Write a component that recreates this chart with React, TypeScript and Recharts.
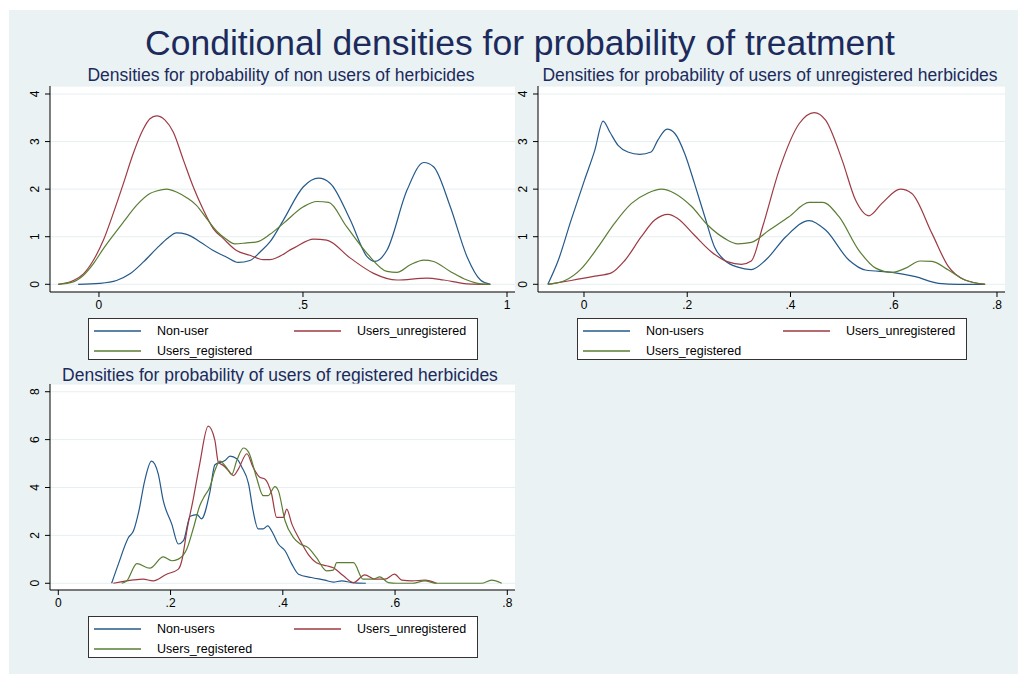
import React from 'react'
import { LineChart, Line, XAxis, YAxis, CartesianGrid } from 'recharts'

const FONT = "Arial, 'Liberation Sans', Helvetica, sans-serif"
const BLUE = '#24598a'
const RED = '#9e3a43'
const GREEN = '#5a7d33'
const NAVY = '#1c2a5c'
const BG = '#eaf2f3'

// panel 1: non users of herbicides
const p1NonUser = [
    [-0.051, 0], [0.002, 0.02], [0.043, 0.08], [0.076, 0.22], [0.109, 0.47], [0.141, 0.75], [0.17, 0.98],
    [0.19, 1.08], [0.215, 1.05], [0.248, 0.89], [0.28, 0.71], [0.313, 0.57], [0.341, 0.46], [0.37, 0.5],
    [0.395, 0.68], [0.419, 0.89], [0.452, 1.35], [0.501, 2.05], [0.538, 2.23], [0.567, 2.12], [0.616, 1.35],
    [0.657, 0.58], [0.676, 0.48], [0.706, 0.72], [0.755, 1.98], [0.796, 2.56], [0.82, 2.47], [0.861, 1.63],
    [0.902, 0.58], [0.935, 0.09], [0.959, 0],
]
const p1Unreg = [
    [-0.1, 0], [-0.063, 0.08], [-0.038, 0.22], [-0.014, 0.5], [0.011, 0.93], [0.035, 1.49], [0.06, 2.12],
    [0.084, 2.75], [0.109, 3.27], [0.125, 3.48], [0.141, 3.54], [0.162, 3.45], [0.182, 3.2], [0.207, 2.61],
    [0.231, 2.05], [0.256, 1.56], [0.28, 1.17], [0.305, 0.96], [0.337, 0.71], [0.37, 0.61], [0.403, 0.52],
    [0.419, 0.52], [0.477, 0.76], [0.526, 0.95], [0.558, 0.93], [0.616, 0.55], [0.673, 0.23], [0.73, 0.09],
    [0.804, 0.13], [0.845, 0.09], [0.902, 0.01], [0.959, 0],
]
const p1Reg = [
    [-0.1, 0], [-0.063, 0.05], [-0.038, 0.19], [-0.014, 0.43], [0.011, 0.75], [0.035, 1.03], [0.06, 1.31],
    [0.092, 1.66], [0.125, 1.91], [0.141, 1.96], [0.166, 2.0], [0.19, 1.94], [0.215, 1.82], [0.239, 1.66],
    [0.264, 1.38], [0.288, 1.12], [0.313, 0.94], [0.333, 0.85], [0.362, 0.87], [0.387, 0.89], [0.419, 1.05],
    [0.452, 1.28], [0.501, 1.63], [0.534, 1.74], [0.563, 1.72], [0.607, 1.21], [0.657, 0.65], [0.706, 0.27],
    [0.73, 0.25], [0.763, 0.41], [0.796, 0.51], [0.82, 0.48], [0.861, 0.27], [0.902, 0.09], [0.935, 0.01],
    [0.959, 0],
]

// panel 2: users of unregistered herbicides
const p2NonUsers = [
    [-0.07, 0], [-0.05, 0.5], [-0.025, 1.35], [0.001, 2.19], [0.021, 2.82], [0.037, 3.43], [0.05, 3.2],
    [0.066, 2.92], [0.085, 2.78], [0.108, 2.73], [0.13, 2.78], [0.143, 3.03], [0.161, 3.26], [0.176, 3.17],
    [0.195, 2.75], [0.214, 2.12], [0.234, 1.42], [0.253, 0.78], [0.273, 0.5], [0.298, 0.36], [0.324, 0.31],
    [0.352, 0.51], [0.391, 1.0], [0.436, 1.34], [0.468, 1.14], [0.513, 0.51], [0.545, 0.3], [0.597, 0.25],
    [0.642, 0.16], [0.687, 0.02], [0.725, 0], [0.777, 0],
]
const p2Unreg = [
    [-0.07, 0], [-0.025, 0.08], [0.021, 0.17], [0.053, 0.24], [0.079, 0.5], [0.111, 1.0], [0.137, 1.35],
    [0.163, 1.47], [0.182, 1.38], [0.214, 1.03], [0.247, 0.68], [0.279, 0.47], [0.305, 0.42], [0.324, 0.49],
    [0.346, 1.21], [0.378, 2.4], [0.417, 3.38], [0.446, 3.61], [0.468, 3.45], [0.5, 2.61], [0.526, 1.77],
    [0.552, 1.44], [0.577, 1.7], [0.613, 2.0], [0.635, 1.91], [0.674, 1.07], [0.706, 0.37], [0.738, 0.09],
    [0.777, 0],
]
const p2Reg = [
    [-0.07, 0], [-0.037, 0.08], [-0.005, 0.33], [0.027, 0.78], [0.059, 1.28], [0.092, 1.7], [0.124, 1.92],
    [0.15, 2.0], [0.176, 1.91], [0.208, 1.64], [0.24, 1.24], [0.273, 0.96], [0.298, 0.85], [0.324, 0.88],
    [0.359, 1.14], [0.397, 1.42], [0.436, 1.72], [0.462, 1.72], [0.494, 1.42], [0.532, 0.72], [0.565, 0.34],
    [0.597, 0.25], [0.623, 0.34], [0.651, 0.49], [0.674, 0.48], [0.706, 0.3], [0.738, 0.09], [0.777, 0],
]

// panel 3: users of registered herbicides
const p3NonUsers = [
    [0.095, 0], [0.107, 0.8], [0.125, 1.91], [0.134, 2.19], [0.143, 2.96], [0.154, 4.29], [0.166, 5.1],
    [0.178, 4.57], [0.187, 3.45], [0.202, 2.48], [0.214, 1.64], [0.223, 1.78], [0.235, 2.8], [0.247, 2.87],
    [0.255, 2.69], [0.27, 3.8], [0.279, 4.95], [0.297, 5.13], [0.306, 5.31], [0.318, 5.2], [0.327, 4.85],
    [0.339, 4.15], [0.347, 3.03], [0.356, 2.27], [0.365, 2.27], [0.373, 2.4], [0.383, 2.06], [0.392, 1.64],
    [0.404, 1.36], [0.416, 0.8], [0.428, 0.38], [0.451, 0.24], [0.475, 0.13], [0.49, 0.05], [0.505, 0.1],
    [0.523, 0.03], [0.548, 0],
]
const p3Unreg = [
    [0.098, 0], [0.134, 0.14], [0.151, 0.17], [0.169, 0.1], [0.193, 0.38], [0.214, 0.59], [0.22, 0.94],
    [0.229, 2.19], [0.241, 3.59], [0.252, 4.99], [0.267, 6.56], [0.279, 5.97], [0.285, 5.06], [0.294, 4.92],
    [0.303, 4.71], [0.312, 4.5], [0.321, 4.78], [0.336, 5.41], [0.347, 4.85], [0.359, 4.43], [0.368, 4.36],
    [0.38, 3.73], [0.389, 2.75], [0.401, 2.75], [0.407, 3.1], [0.416, 2.48], [0.431, 1.78], [0.445, 1.22],
    [0.46, 0.86], [0.478, 0.73], [0.49, 0.65], [0.508, 0.31], [0.526, 0.03], [0.546, 0.35], [0.564, 0.17],
    [0.582, 0.17], [0.599, 0.38], [0.612, 0.13], [0.63, 0.1], [0.653, 0.13], [0.674, 0],
]
const p3Reg = [
    [0.113, 0], [0.122, 0.1], [0.14, 0.82], [0.163, 0.63], [0.187, 1.1], [0.202, 0.94], [0.214, 1.01],
    [0.229, 1.43], [0.241, 2.33], [0.252, 3.24], [0.261, 3.66], [0.27, 4.01], [0.279, 4.71], [0.288, 5.1],
    [0.3, 4.82], [0.309, 4.54], [0.318, 5.13], [0.33, 5.65], [0.339, 5.48], [0.353, 4.43], [0.365, 3.66],
    [0.374, 3.66], [0.386, 4.04], [0.392, 3.87], [0.404, 2.61], [0.419, 1.91], [0.431, 1.64], [0.445, 1.49],
    [0.46, 1.07], [0.478, 0.52], [0.49, 0.55], [0.496, 0.86], [0.514, 0.86], [0.526, 0.86], [0.543, 0.17],
    [0.561, 0.17], [0.573, 0.27], [0.588, 0.03], [0.603, 0], [0.63, 0], [0.653, 0.1], [0.674, 0],
    [0.754, 0], [0.772, 0.13], [0.79, 0],
]

const xTicks1 = [0, 0.5, 1]
const xTicks2 = [0, 0.2, 0.4, 0.6, 0.8]
const yTicks12 = [0, 1, 2, 3, 4]
const yTicks3 = [0, 2, 4, 6, 8]

const fmt = (v: number) => (v === 0 ? '0' : String(v).replace(/^0/, ''))
const toRows = (pts: number[][]) => pts.map(([x, y]) => ({ x, y }))

const RotTick = (props: any) => {
    const { x, y, payload } = props
    const cx = x - 8
    return (
        <text x={cx} y={y} dy="0.35em" textAnchor="middle" transform={`rotate(-90 ${cx} ${y})`}
            fontSize={12} fill="#000" fontFamily={FONT}>
            {payload.value}
        </text>
    )
}

interface PanelProps {
    left: number
    top: number
    width: number
    yWidth: number
    marginLeft: number
    xDomain: number[]
    yDomain: number[]
    xTicks: number[]
    yTicks: number[]
    series: number[][][]
}

function Panel({ left, top, width, yWidth, marginLeft, xDomain, yDomain, xTicks, yTicks, series }: PanelProps) {
    const colors = [BLUE, RED, GREEN]
    return (
        <div style={{ position: 'absolute', left, top }}>
            <LineChart width={width} height={240} margin={{ top: 6, right: 5, bottom: 0, left: marginLeft }}>
                <CartesianGrid vertical={false} stroke="#e6eff1" fill="#fff" />
                <XAxis type="number" dataKey="x" domain={xDomain} allowDataOverflow ticks={xTicks}
                    tickFormatter={fmt} height={28} tickSize={5} tickMargin={3}
                    axisLine={{ stroke: '#000' }} tickLine={{ stroke: '#000' }}
                    tick={{ fill: '#000', fontSize: 12, fontFamily: FONT }} />
                <YAxis type="number" dataKey="y" domain={yDomain} allowDataOverflow ticks={yTicks}
                    width={yWidth} tickSize={5} axisLine={{ stroke: '#000' }} tickLine={{ stroke: '#000' }}
                    tick={<RotTick />} />
                {series.map((pts, i) => (
                    <Line key={i} data={toRows(pts)} dataKey="y" type="monotone" stroke={colors[i]}
                        strokeWidth={1.2} dot={false} activeDot={false} isAnimationActive={false} />
                ))}
            </LineChart>
        </div>
    )
}

function LegendBox({ left, top, first }: { left: number; top: number; first: string }) {
    const item = (color: string, label: string, x: number, y: number) => (
        <div style={{ position: 'absolute', left: x, top: y - 8, height: 16, display: 'flex', alignItems: 'center' }}>
            <svg width={47} height={4} style={{ display: 'block' }}>
                <line x1={0} y1={2} x2={47} y2={2} stroke={color} strokeWidth={1.5} />
            </svg>
            <span style={{ marginLeft: 16, fontSize: 12.5, fontFamily: FONT, color: '#000' }}>{label}</span>
        </div>
    )
    return (
        <div style={{ position: 'absolute', left, top, width: 388, height: 40, background: '#fff', border: '1px solid #333' }}>
            {item(BLUE, first, 5, 12)}
            {item(RED, 'Users_unregistered', 205, 12)}
            {item(GREEN, 'Users_registered', 5, 32)}
        </div>
    )
}

export default function App() {
    return (
        <div style={{ position: 'absolute', left: 0, top: 0, width: 1018, height: 674, background: '#fff' }}>
            <div style={{ position: 'absolute', left: 9, top: 10, width: 1009, height: 664, background: BG }} />
            <svg width={1018} height={674} style={{ position: 'absolute', left: 0, top: 0 }}>
                <text x={520} y={55} textAnchor="middle" fontSize={35.5} fill={NAVY} fontFamily={FONT}>
                    Conditional densities for probability of treatment
                </text>
                <text x={281} y={81} textAnchor="middle" fontSize={17.5} fill={NAVY} fontFamily={FONT}>
                    Densities for probability of non users of herbicides
                </text>
                <text x={770} y={81} textAnchor="middle" fontSize={17.5} fill={NAVY} fontFamily={FONT}>
                    Densities for probability of users of unregistered herbicides
                </text>
                <text x={280} y={381} textAnchor="middle" fontSize={17.5} fill={NAVY} fontFamily={FONT}>
                    Densities for probability of users of registered herbicides
                </text>
            </svg>
            <Panel left={0} top={80} width={520} yWidth={40} marginLeft={10}
                xDomain={[-0.12, 1.0196]} yDomain={[-0.162, 4.168]} xTicks={xTicks1} yTicks={yTicks12}
                series={[p1NonUser, p1Unreg, p1Reg]} />
            <Panel left={500} top={80} width={510} yWidth={38} marginLeft={0}
                xDomain={[-0.0891, 0.8155]} yDomain={[-0.162, 4.168]} xTicks={xTicks2} yTicks={yTicks12}
                series={[p2NonUsers, p2Unreg, p2Reg]} />
            <Panel left={0} top={378} width={520} yWidth={40} marginLeft={10}
                xDomain={[-0.0148, 0.8137]} yDomain={[-0.281, 8.323]} xTicks={xTicks2} yTicks={yTicks3}
                series={[p3NonUsers, p3Unreg, p3Reg]} />
            <LegendBox left={88} top={318} first="Non-user" />
            <LegendBox left={577} top={318} first="Non-users" />
            <LegendBox left={88} top={616} first="Non-users" />
        </div>
    )
}
